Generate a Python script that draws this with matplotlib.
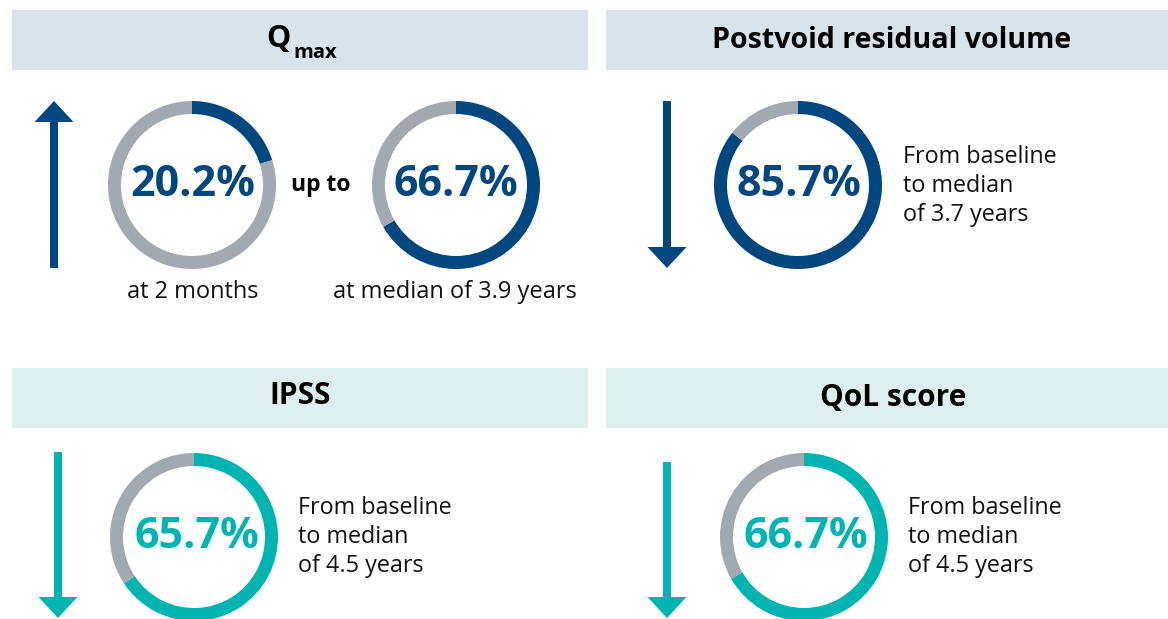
import matplotlib
matplotlib.use("Agg")
import matplotlib.pyplot as plt
from matplotlib.patches import Rectangle

# ---------------- data ----------------
panel_titles = ["Q", "Postvoid residual volume", "IPSS", "QoL score"]
qmax_values = [20.2, 66.7]
qmax_captions = ["at 2 months", "at median of 3.9 years"]
pvr_value = 85.7
ipss_value = 65.7
qol_value = 66.7
pvr_caption = ["From baseline", "to median", "of 3.7 years"]
ipss_caption = ["From baseline", "to median", "of 4.5 years"]
qol_caption = ["From baseline", "to median", "of 4.5 years"]
connector = "up to"

# ---------------- style ----------------
W, H = 1168, 619
BLUE = "#00467F"
TEAL = "#00B5B1"
GRAY = "#A2A9B0"
HDR_BLUE = "#D9E3EB"
HDR_TEAL = "#DDF0EF"
FONT = "Open Sans"
INK = "#111111"

fig = plt.figure(figsize=(W / 100, H / 100), dpi=100)
ax = fig.add_axes([0, 0, 1, 1])
ax.set_xlim(0, W)
ax.set_ylim(0, H)
ax.set_aspect("equal")
ax.axis("off")


def Y(y):
    return H - y


def header(x0, x1, y0, y1, color):
    ax.add_patch(Rectangle((x0, Y(y1)), x1 - x0, y1 - y0, color=color, lw=0, zorder=0))


def ring(cx, cy, pct, color, r=84, w=13):
    ax.pie([pct, 100 - pct], colors=[color, GRAY], startangle=90, counterclock=False,
           center=(cx, Y(cy)), radius=r, frame=True,
           wedgeprops=dict(width=w, linewidth=0))


def arrow(x, y_tail, y_tip, color):
    ax.arrow(x, Y(y_tail), 0, Y(y_tip) - Y(y_tail), width=8, head_width=39,
             head_length=21, length_includes_head=True, color=color, lw=0)


def pct_text(x, y, v, color):
    ax.text(x, Y(y), f"{v}%", color=color, fontsize=31, fontweight="bold",
            family=FONT, ha="center", va="center")


def caption(x, y, lines):
    ax.text(x, Y(y), "\n".join(lines), fontsize=16.8, family=FONT, ha="left",
            va="center", linespacing=1.3, color=INK)


# headers
header(12, 588, 10, 70, HDR_BLUE)
header(606, 1168, 10, 70, HDR_BLUE)
header(12, 588, 368, 428, HDR_TEAL)
header(606, 1168, 368, 428, HDR_TEAL)

# titles
ax.text(291, Y(47), panel_titles[0], fontsize=22, fontweight="bold", family=FONT,
        ha="right", va="baseline")
ax.text(293, Y(58), "max", fontsize=14.5, fontweight="bold", family=FONT,
        ha="left", va="baseline")
ax.text(892, Y(40), panel_titles[1], fontsize=20.6, fontweight="bold", family=FONT,
        ha="center", va="center")
ax.text(300, Y(396), panel_titles[2], fontsize=21.5, fontweight="bold", family=FONT,
        ha="center", va="center")
ax.text(893, Y(398), panel_titles[3], fontsize=21.5, fontweight="bold", family=FONT,
        ha="center", va="center")

# Qmax panel
arrow(54, 268, 101, BLUE)
ring(192, 185, qmax_values[0], BLUE)
ring(456, 185, qmax_values[1], BLUE)
pct_text(193, 185, qmax_values[0], BLUE)
pct_text(456, 185, qmax_values[1], BLUE)
ax.text(321, Y(185), connector, fontsize=16.5, fontweight="bold", family=FONT,
        ha="center", va="center")
ax.text(193, Y(292), qmax_captions[0], fontsize=17, family=FONT, ha="center",
        va="center", color=INK)
ax.text(455, Y(292), qmax_captions[1], fontsize=17, family=FONT, ha="center",
        va="center", color=INK)

# PVR panel
arrow(667, 101, 268, BLUE)
ring(798, 185, pvr_value, BLUE)
pct_text(799, 185, pvr_value, BLUE)
caption(903, 186, pvr_caption)

# IPSS panel
arrow(58, 452, 618, TEAL)
ring(194, 537, ipss_value, TEAL)
pct_text(197, 537, ipss_value, TEAL)
caption(298, 537, ipss_caption)

# QoL panel
arrow(667, 462, 618, TEAL)
ring(804, 537, qol_value, TEAL)
pct_text(806, 537, qol_value, TEAL)
caption(908, 537, qol_caption)

ax.set_xlim(0, W)
ax.set_ylim(0, H)
fig.savefig("out.png", dpi=100)
